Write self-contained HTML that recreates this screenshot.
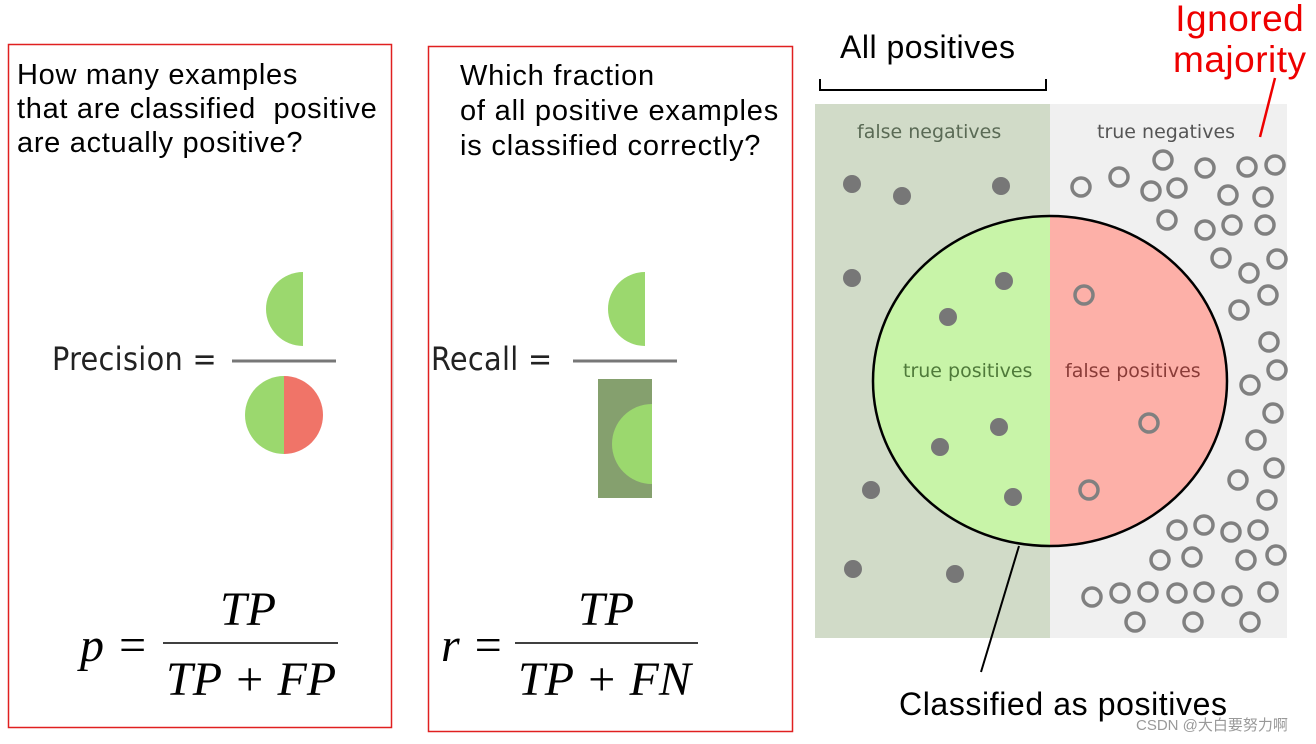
<!DOCTYPE html>
<html><head><meta charset="utf-8"><style>
body{margin:0;width:1316px;height:744px;background:#fff;overflow:hidden;position:relative;font-family:"Liberation Sans",sans-serif}
.t{position:absolute;white-space:nowrap}
</style></head><body>
<svg width="1316" height="744" style="position:absolute;left:0;top:0">
<rect x="8.5" y="44.5" width="383" height="683" fill="none" stroke="#e02020" stroke-width="1.5"/>
<rect x="428.5" y="46.5" width="364" height="685" fill="none" stroke="#e02020" stroke-width="1.5"/>
<line x1="393" y1="210" x2="393" y2="550" stroke="#ccc" stroke-width="1"/>
<path d="M303,272 A37,37 0 0 0 303,346 Z" fill="#9bd86e"/>
<line x1="232" y1="361" x2="336" y2="361" stroke="#777" stroke-width="3"/>
<path d="M284,376 A39,39 0 0 0 284,454 Z" fill="#9bd86e"/>
<path d="M284,376 A39,39 0 0 1 284,454 Z" fill="#f07468"/>
<path d="M645,272 A37,37 0 0 0 645,346 Z" fill="#9bd86e"/>
<line x1="573" y1="361" x2="677" y2="361" stroke="#777" stroke-width="3"/>
<rect x="598" y="379" width="54" height="119" fill="#85a06e"/>
<path d="M652,404 A40,40 0 0 0 652,484 Z" fill="#9bd86e"/>
<line x1="163" y1="643" x2="338" y2="643" stroke="#000" stroke-width="1.5"/>
<line x1="515" y1="643" x2="698" y2="643" stroke="#000" stroke-width="1.5"/>
<rect x="815" y="104" width="235" height="534" fill="#d1dbc8"/>
<rect x="1050" y="104" width="237" height="534" fill="#f0f0f0"/>
<path d="M1050,216 A177,165 0 0 0 1050,546 Z" fill="#c8f4a8"/>
<path d="M1050,216 A177,165 0 0 1 1050,546 Z" fill="#fdb0a8"/>
<ellipse cx="1050" cy="381" rx="177" ry="165" fill="none" stroke="#000" stroke-width="2.5"/>
<line x1="1019" y1="546" x2="981" y2="672" stroke="#000" stroke-width="2"/>
<path d="M820,79 V90 H1046 V79" fill="none" stroke="#000" stroke-width="2"/>
<line x1="1275" y1="78" x2="1260" y2="137" stroke="#e00" stroke-width="2.5"/>
<g fill="#777">
<circle cx="852" cy="184" r="9"/><circle cx="902" cy="196" r="9"/><circle cx="1001" cy="186" r="9"/>
<circle cx="852" cy="278" r="9"/><circle cx="871" cy="490" r="9"/><circle cx="853" cy="569" r="9"/><circle cx="955" cy="574" r="9"/>
<circle cx="1004" cy="281" r="9"/><circle cx="948" cy="317" r="9"/><circle cx="999" cy="427" r="9"/><circle cx="940" cy="447" r="9"/><circle cx="1013" cy="497" r="9"/>
</g>
<g fill="none" stroke="#808080" stroke-width="3.5">
<circle cx="1081" cy="187" r="9"/><circle cx="1119" cy="177" r="9"/><circle cx="1163" cy="160" r="9"/><circle cx="1151" cy="191" r="9"/><circle cx="1177" cy="188" r="9"/><circle cx="1205" cy="168" r="9"/><circle cx="1228" cy="195" r="9"/><circle cx="1247" cy="167" r="9"/><circle cx="1275" cy="165" r="9"/><circle cx="1263" cy="197" r="9"/>
<circle cx="1167" cy="220" r="9"/><circle cx="1205" cy="230" r="9"/><circle cx="1232" cy="225" r="9"/><circle cx="1265" cy="225" r="9"/><circle cx="1221" cy="258" r="9"/><circle cx="1249" cy="273" r="9"/><circle cx="1277" cy="259" r="9"/>
<circle cx="1239" cy="310" r="9"/><circle cx="1268" cy="295" r="9"/><circle cx="1269" cy="342" r="9"/><circle cx="1250" cy="385" r="9"/><circle cx="1277" cy="370" r="9"/><circle cx="1273" cy="413" r="9"/><circle cx="1256" cy="440" r="9"/><circle cx="1274" cy="468" r="9"/><circle cx="1238" cy="480" r="9"/><circle cx="1267" cy="500" r="9"/>
<circle cx="1177" cy="530" r="9"/><circle cx="1204" cy="525" r="9"/><circle cx="1231" cy="532" r="9"/><circle cx="1258" cy="530" r="9"/><circle cx="1160" cy="560" r="9"/><circle cx="1192" cy="557" r="9"/><circle cx="1246" cy="560" r="9"/><circle cx="1276" cy="555" r="9"/>
<circle cx="1092" cy="597" r="9"/><circle cx="1120" cy="593" r="9"/><circle cx="1148" cy="592" r="9"/><circle cx="1177" cy="593" r="9"/><circle cx="1204" cy="592" r="9"/><circle cx="1232" cy="596" r="9"/><circle cx="1268" cy="592" r="9"/><circle cx="1135" cy="622" r="9"/><circle cx="1193" cy="622" r="9"/><circle cx="1250" cy="622" r="9"/>
<circle cx="1084" cy="295" r="9"/><circle cx="1149" cy="423" r="9"/><circle cx="1089" cy="490" r="9"/>
</g>
</svg>
<div class="t" style="left:17px;top:58px;font-size:29px;line-height:34px;letter-spacing:0.7px">How many examples<br>that are classified&nbsp; positive<br>are actually positive?</div>
<div class="t" style="left:460px;top:59px;font-size:29px;line-height:35px;letter-spacing:0.8px">Which fraction<br>of all positive examples<br>is classified correctly?</div>
<div class="t" style="left:52px;top:340px;font-size:32px;font-family:'DejaVu Sans Condensed','DejaVu Sans',sans-serif;color:#222;letter-spacing:0.3px">Precision =</div>
<div class="t" style="left:431px;top:340px;font-size:32px;font-family:'DejaVu Sans Condensed','DejaVu Sans',sans-serif;color:#222;letter-spacing:0.3px">Recall =</div>
<div class="t" style="left:80px;top:618px;font-size:48px;font-style:italic;font-family:'Liberation Serif',serif">p =</div>
<div class="t" style="left:220px;top:582px;font-size:48px;font-style:italic;font-family:'Liberation Serif',serif">TP</div>
<div class="t" style="left:166px;top:652px;font-size:48px;font-style:italic;font-family:'Liberation Serif',serif">TP + FP</div>
<div class="t" style="left:441px;top:618px;font-size:48px;font-style:italic;font-family:'Liberation Serif',serif">r =</div>
<div class="t" style="left:578px;top:582px;font-size:48px;font-style:italic;font-family:'Liberation Serif',serif">TP</div>
<div class="t" style="left:518px;top:652px;font-size:48px;font-style:italic;font-family:'Liberation Serif',serif">TP + FN</div>
<div class="t" style="left:840px;top:29px;font-size:32px;letter-spacing:0.5px">All positives</div>
<div class="t" style="left:1173px;top:-2px;font-size:37px;line-height:41px;color:#e00;text-align:center;letter-spacing:0.5px">Ignored<br>majority</div>
<div class="t" style="left:857px;top:121px;font-size:19px;font-family:'DejaVu Sans',sans-serif;color:#5a6a55">false negatives</div>
<div class="t" style="left:1097px;top:121px;font-size:19px;font-family:'DejaVu Sans',sans-serif;color:#555">true negatives</div>
<div class="t" style="left:903px;top:360px;font-size:19px;font-family:'DejaVu Sans',sans-serif;color:#4f7a3a">true positives</div>
<div class="t" style="left:1065px;top:360px;font-size:19px;font-family:'DejaVu Sans',sans-serif;color:#8a3c38">false positives</div>
<div class="t" style="left:899px;top:686px;font-size:32px;letter-spacing:0.6px">Classified as positives</div>
<div class="t" style="left:1136px;top:714px;font-size:15px;color:#999;font-family:'Liberation Sans','Noto Sans CJK SC',sans-serif">CSDN @大白要努力啊</div>
</body></html>
